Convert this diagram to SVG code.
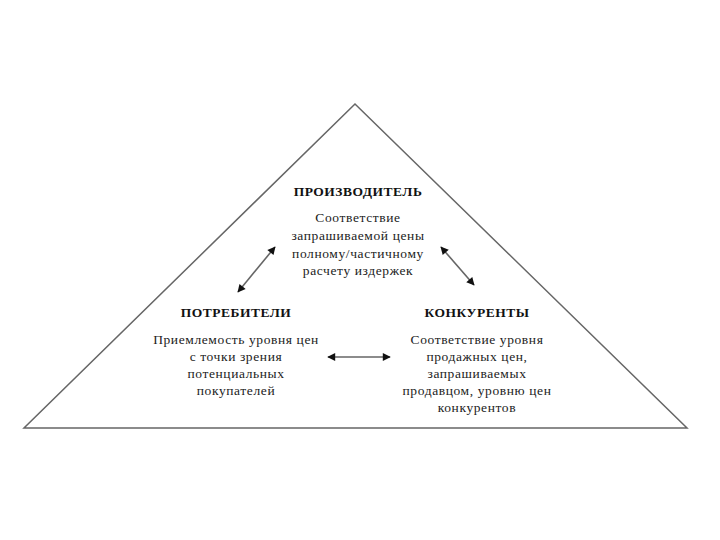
<svg xmlns="http://www.w3.org/2000/svg" width="720" height="540" viewBox="0 0 720 540">
<style>
.h{font-family:"Liberation Serif","Times New Roman",serif;font-size:13.5px;letter-spacing:0.5px;font-weight:bold;fill:#111;text-anchor:middle}
.t{font-family:"Liberation Serif","Times New Roman",serif;font-size:13.5px;letter-spacing:0.6px;fill:#222;text-anchor:middle}
.c{stroke:#666;stroke-width:1.6;fill:none;marker-start:url(#a);marker-end:url(#a)}
</style>
<defs>
<marker id="a" viewBox="0 0 10 10" refX="9" refY="5" markerWidth="8" markerHeight="8" orient="auto-start-reverse" markerUnits="userSpaceOnUse" overflow="visible">
<path d="M0,0 L10,5 L0,10 z" fill="#111"/>
</marker>
</defs>
<rect width="720" height="540" fill="#fff"/>
<g id="pyramid">
<polygon points="355,104 24,428 687,428" fill="none" stroke="#666" stroke-width="1.5"/>
</g>
<g id="producer">
<text class="h" x="358" y="196">ПРОИЗВОДИТЕЛЬ</text>
<text class="t" x="358" y="222">Соответствие</text>
<text class="t" x="358" y="240">запрашиваемой цены</text>
<text class="t" x="358" y="258">полному/частичному</text>
<text class="t" x="358" y="275">расчету издержек</text>
</g>
<g id="consumers">
<text class="h" x="236" y="317">ПОТРЕБИТЕЛИ</text>
<text class="t" x="236" y="344">Приемлемость уровня цен</text>
<text class="t" x="236" y="361">с точки зрения</text>
<text class="t" x="236" y="378">потенциальных</text>
<text class="t" x="236" y="395">покупателей</text>
</g>
<g id="competitors">
<text class="h" x="477" y="317">КОНКУРЕНТЫ</text>
<text class="t" x="477" y="344">Соответствие уровня</text>
<text class="t" x="477" y="361">продажных цен,</text>
<text class="t" x="477" y="378">запрашиваемых</text>
<text class="t" x="477" y="395">продавцом, уровню цен</text>
<text class="t" x="477" y="412">конкурентов</text>
</g>
<g id="connectors">
<line class="c" x1="238" y1="292" x2="275" y2="247"/>
<line class="c" x1="441" y1="247" x2="474" y2="285"/>
<line class="c" x1="328" y1="357" x2="390" y2="357"/>
</g>
</svg>
